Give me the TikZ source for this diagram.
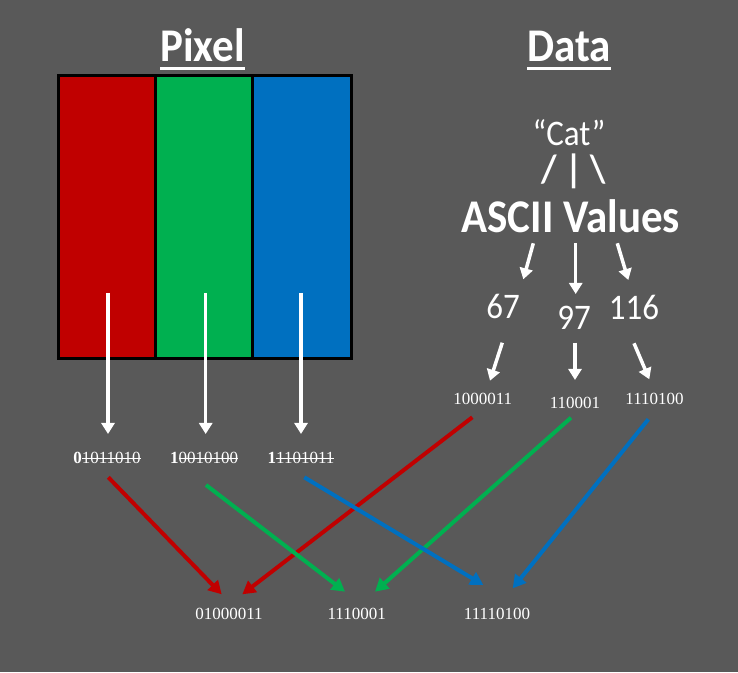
\documentclass[tikz,border=0pt]{standalone}
\usepackage{fontspec}
\setmainfont{Liberation Serif}
\newfontfamily\calibri{Carlito}
\usetikzlibrary{arrows.meta}
\definecolor{bgColor}{RGB}{89,89,89}
\definecolor{redCell}{RGB}{192,0,0}
\definecolor{greenCell}{RGB}{0,176,80}
\definecolor{blueCell}{RGB}{0,112,192}
% kept bit first, struck-out bits after it
\newsavebox\bitbox
\newcommand{\strikebits}[1]{\sbox\bitbox{#1}\rlap{\usebox\bitbox}\rule[0.32em]{\wd\bitbox}{0.9pt}}
\newcommand{\lsbits}[2]{{\bfseries #1}\strikebits{#2}}
% slide text is a little taller than wide
\newcommand{\tall}[1]{\scalebox{1}[1.09]{#1}}
\begin{document}
\begin{tikzpicture}[x=1pt,y=1pt,
  title/.style={text=white,anchor=base,inner sep=0pt,outer sep=0pt,font=\calibri\bfseries\fontsize{43}{48}\selectfont},
  bigtext/.style={text=white,anchor=base,inner sep=0pt,outer sep=0pt,font=\calibri\fontsize{33}{38}\selectfont},
  bits/.style={text=white,anchor=base,inner sep=0pt,outer sep=0pt,font=\fontsize{17}{20}\selectfont},
  titleline/.style={draw=white,line width=3pt},
  cellborder/.style={draw=black,line width=3pt},
  whitearrow/.style={draw=white,line width=3.5pt,-{Triangle[width=13pt,length=11pt]}},
  bitarrow/.style={line width=4pt,-{Triangle[width=14pt,length=13pt]}}]
\path[use as bounding box,fill=bgColor] (0,0) rectangle (738,672);

% titles
\node[title] (pixtitle) at (202.5,610.3) {\tall{Pixel}};
\node[title] (datatitle) at (569,610.3) {\tall{Data}};
\draw[titleline] ([yshift=-6.5pt]pixtitle.base west) -- ([yshift=-6.5pt]pixtitle.base east);
\draw[titleline] ([yshift=-6.5pt]datatitle.base west) -- ([yshift=-6.5pt]datatitle.base east);

% the pixel
\path[fill=redCell] (58.5,313) rectangle (155.5,596.5);
\path[fill=greenCell] (155.5,313) rectangle (252.5,596.5);
\path[fill=blueCell] (252.5,313) rectangle (351,596.5);
\path[cellborder] (58.5,313) rectangle (351,596.5);
\path[cellborder] (155.5,313) -- (155.5,596.5);
\path[cellborder] (252.5,313) -- (252.5,596.5);
\coordinate (redsrc) at (108,379);
\coordinate (greensrc) at (205.7,379);
\coordinate (bluesrc) at (301,379);

\node[bits] (redbits) at (107,208) {\lsbits{0}{1011010}};
\node[bits] (greenbits) at (204,208) {\lsbits{1}{0010100}};
\node[bits] (bluebits) at (301,208) {\lsbits{1}{1101011}};

\draw[whitearrow] (redsrc) -- ([shift={(1,30)}]redbits.base);
\draw[whitearrow] (greensrc) -- ([shift={(1.7,30)}]greenbits.base);
\draw[whitearrow] (bluesrc) -- ([shift={(0,30)}]bluebits.base);

% the data
\node[bigtext] (cat) at (569,526) {\tall{“Cat”}};
\node[bigtext,font=\calibri\bfseries\fontsize{36}{40}\selectfont] (split) at (574,489) {\tall{/ | \textbackslash}};
\node[title] (ascii) at (570.8,439.3) {\tall{ASCII Values}};

\node[bigtext] (n67) at (503,353) {\tall{67}};
\node[bigtext] (n97) at (574,342) {\tall{97}};
\node[bigtext] (n116) at (634,352.7) {\tall{116}};

\node[bits] (b67) at (482.8,267) {1000011};
\node[bits] (b97) at (575,263.7) {110001};
\node[bits] (b116) at (654.5,267) {1110100};

\draw[whitearrow] ([shift={(-37.5,-10.6)}]ascii.base) -- ([shift={(20.3,39.7)}]n67.base);
\draw[whitearrow] ([shift={(4.9,-10.3)}]ascii.base) -- ([shift={(1.7,36)}]n97.base);
\draw[whitearrow] ([shift={(46.5,-10.6)}]ascii.base) -- ([shift={(-5.7,39.3)}]n116.base);

\draw[whitearrow] ([shift={(-0.7,-23.7)}]n67.base) -- ([shift={(7.2,24.3)}]b67.base);
\draw[whitearrow] ([shift={(1,-12.7)}]n97.base) -- ([shift={(0,28.3)}]b97.base);
\draw[whitearrow] ([shift={(0,-24)}]n116.base) -- ([shift={(-5.2,25.7)}]b116.base);

% the new pixel
\node[bits] (low1) at (229,53) {01000011};
\node[bits] (low2) at (356.7,53) {1110001};
\node[bits] (low3) at (497,53) {11110100};

\draw[bitarrow,draw=redCell,fill=redCell] ([shift={(1.3,-13.3)}]redbits.base) -- ([shift={(-7.3,24.7)}]low1.base);
\draw[bitarrow,draw=redCell,fill=redCell] ([shift={(-10.5,-12.3)}]b67.base) -- ([shift={(13.3,24.7)}]low1.base);
\draw[bitarrow,draw=greenCell,fill=greenCell] ([shift={(2,-21)}]greenbits.base) -- ([shift={(-11.7,27.3)}]low2.base);
\draw[bitarrow,draw=greenCell,fill=greenCell] ([shift={(-4,-9.4)}]b97.base) -- ([shift={(18.3,27.3)}]low2.base);
\draw[bitarrow,draw=blueCell,fill=blueCell] ([shift={(3.3,-13.3)}]bluebits.base) -- ([shift={(-13.7,34)}]low3.base);
\draw[bitarrow,draw=blueCell,fill=blueCell] ([shift={(-6.2,-14.3)}]b116.base) -- ([shift={(15.7,30.7)}]low3.base);
\end{tikzpicture}
\end{document}
